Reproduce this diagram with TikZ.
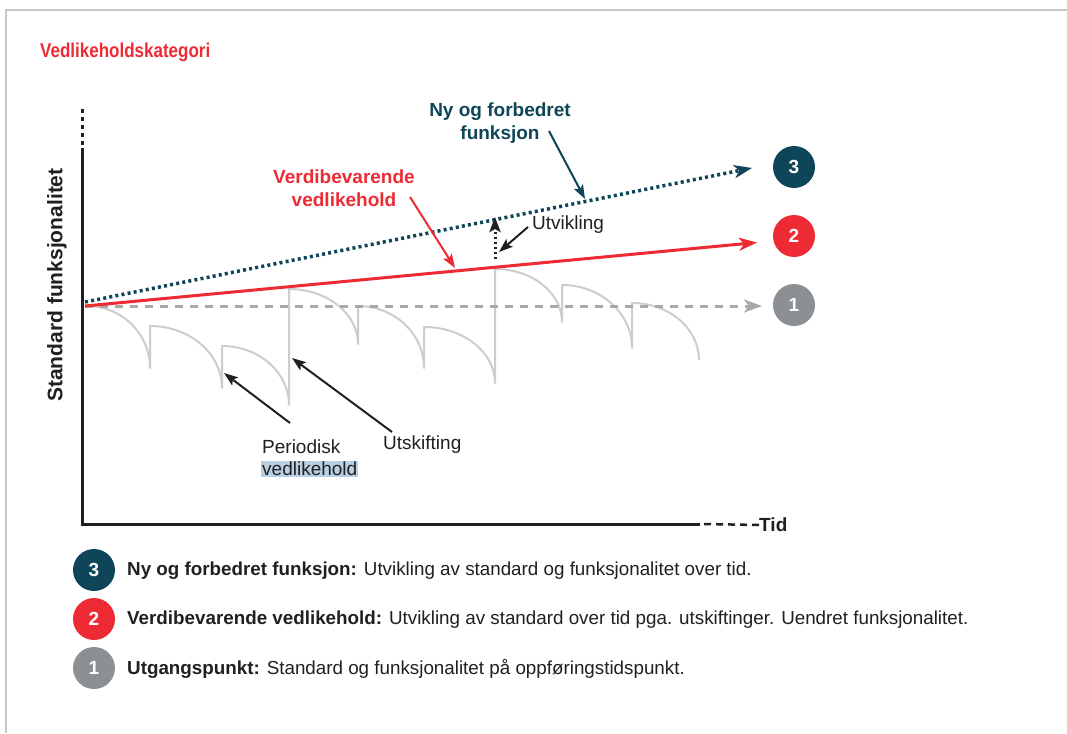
\documentclass[tikz,border=0pt]{standalone}
\usepackage{fontspec}
\usepackage{graphicx}
\setmainfont{Liberation Sans}
\usetikzlibrary{arrows.meta}
\definecolor{teal3}{HTML}{0F4558}
\definecolor{red2}{HTML}{EE2A35}
\definecolor{grey1}{HTML}{8C9094}
\definecolor{dashgrey}{HTML}{A8A8A8}
\definecolor{curvegrey}{HTML}{CDCDCD}
\definecolor{txt}{HTML}{231F20}
\definecolor{hl}{HTML}{B7D0E3}
\definecolor{framegrey}{HTML}{C6C6C6}
\begin{document}
\begin{tikzpicture}[x=1pt,y=-1pt,
  lbl/.style={font=\fontsize{19}{23}\selectfont, text=txt, inner sep=0pt},
  leg/.style={font=\fontsize{18.8}{23}\selectfont, text=txt, inner sep=0pt},
  num/.style={circle, minimum size=42pt, inner sep=0pt, text=white, font=\fontsize{19}{23}\selectfont\bfseries},
  bigtip/.style={-{Stealth[length=18pt,width=13pt,inset=5pt]}},
  smalltip/.style={-{Stealth[length=14pt,width=10pt,inset=3pt]}},
  callout/.style={line width=2pt, smalltip},
  sawcurve/.style={curvegrey, line width=2pt, line join=round}]
\useasboundingbox (0,0) rectangle (1067,733);
\fill[white] (0,0) rectangle (1067,733);
\draw[framegrey, line width=1.5pt] (6,733) -- (6,10) -- (1067,10);

% title
\node[anchor=west, inner sep=0pt, text=red2, font=\fontsize{20}{24}\selectfont\bfseries] (title) at (40,52) {\scalebox{0.85}[1]{Vedlikeholdskategori}};

% sawtooth curves
\draw[sawcurve] (87,306)
  .. controls ({87+0.552*63},306) and (150,{368-0.552*62}) .. (150,368) -- (150,326)
  .. controls ({150+0.552*72},326) and (222,{388-0.552*62}) .. (222,388) -- (222,346)
  .. controls ({222+0.552*67},346) and (289,{405-0.552*59}) .. (289,405) -- (289,289)
  .. controls ({289+0.552*69},289) and (358,{344-0.552*55}) .. (358,344) -- (358,306)
  .. controls ({358+0.552*66},306) and (424,{368-0.552*62}) .. (424,368) -- (424,327)
  .. controls ({424+0.552*71},327) and (495,{383-0.552*56}) .. (495,383) -- (495,269)
  .. controls ({495+0.552*67},269) and (562,{322-0.552*53}) .. (562,322) -- (562,285)
  .. controls ({562+0.552*70},285) and (632,{348-0.552*63}) .. (632,348) -- (632,303)
  .. controls ({632+0.552*67},303) and (699,{360-0.552*57}) .. (699,360);

% axes
\coordinate (ytop) at (82,148);
\coordinate (orig) at (82,524);
\coordinate (xend) at (700,524);
\draw[txt, line width=3pt, line join=miter] (ytop) -- (orig) -- (xend);
\coordinate (ydash) at (82,108);
\draw[txt, line width=3pt, dash pattern=on 4pt off 4pt] (82,145) -- (ydash);
\node[lbl, anchor=west, font=\fontsize{19}{23}\selectfont\bfseries] (tid) at (759,525) {Tid};
\draw[txt, line width=2.5pt, dash pattern=on 7pt off 5pt] (xend) ++(4,0) -- (tid.west);
\node[lbl, rotate=90, font=\fontsize{21}{25}\selectfont\bfseries] (ylab) at (57,285) {Standard funksjonalitet};

% circles
\node[num, fill=grey1] (c1) at (794,305) {1};
\node[num, fill=red2] (c2) at (794,236) {2};
\node[num, fill=teal3] (c3) at (794,167) {3};
\coordinate (O) at (85,306);
\coordinate (O3) at (85,302);
\coordinate (e1) at (762,306);
\coordinate (e2) at (757,242.5);
\coordinate (e3) at (752,168);

\draw[dashgrey, line width=3pt, dash pattern=on 8pt off 7pt, bigtip] (O) -- (e1);
\draw[red2, line width=3pt, bigtip] (O) -- (e2);
\draw[teal3, line width=3.5pt, dash pattern=on 3pt off 3.2pt, bigtip] (O3) -- (e3);

% callouts top
\node[lbl, align=center, text=teal3, font=\fontsize{19}{23}\selectfont\bfseries] (lab3) at (500,123) {Ny og forbedret\\funksjon};
\coordinate (a3s) at (549,131);
\coordinate (a3e) at (585,199);
\draw[teal3, callout] (a3s) -- (a3e);

\node[lbl, align=center, text=red2, font=\fontsize{19}{23}\selectfont\bfseries] (lab2) at (344,188) {Verdibevarende\\vedlikehold};
\coordinate (a2s) at (410,197);
\coordinate (a2e) at (455,268);
\draw[red2, callout] (a2s) -- (a2e);

% utvikling
\coordinate (u1) at (495,259);
\coordinate (u2) at (495,217);
\draw[txt, line width=3pt, dash pattern=on 2.5pt off 2.5pt, -{Stealth[length=15pt,width=11pt,inset=3pt]}] (u1) -- (u2);
\node[lbl, anchor=west] (utv) at (532,225) {Utvikling};
\coordinate (u3) at (499,252);
\draw[txt, callout] (utv.west) ++(-4,2) -- (u3);

% bottom labels
\node[lbl, anchor=west] (per) at (262,447) {Periodisk};
\node[lbl, anchor=west, fill=hl, inner sep=1pt] (vedl) at (261,469) {vedlikehold};
\node[lbl, anchor=west] (uts) at (383,445) {Utskifting};
\coordinate (p1) at (290,423);
\coordinate (p2) at (224,373);
\coordinate (s1) at (392,432);
\coordinate (s2) at (292,358);
\draw[txt, callout] (p1) -- (p2);
\draw[txt, callout] (s1) -- (s2);

% legend
\node[num, fill=teal3] (l3) at (94,570) {3};
\node[num, fill=red2] (l2) at (94,619) {2};
\node[num, fill=grey1] (l1) at (94,668) {1};
\node[leg, anchor=west] (t3) at (127,571) {\textbf{Ny og forbedret funksjon:} Utvikling av standard og funksjonalitet over tid.};
\node[leg, anchor=west] (t2) at (127,620) {\textbf{Verdibevarende vedlikehold:} Utvikling av standard over tid pga. utskiftinger. Uendret funksjonalitet.};
\node[leg, anchor=west] (t1) at (127,669) {\textbf{Utgangspunkt:} Standard og funksjonalitet på oppføringstidspunkt.};
\end{tikzpicture}
\end{document}
